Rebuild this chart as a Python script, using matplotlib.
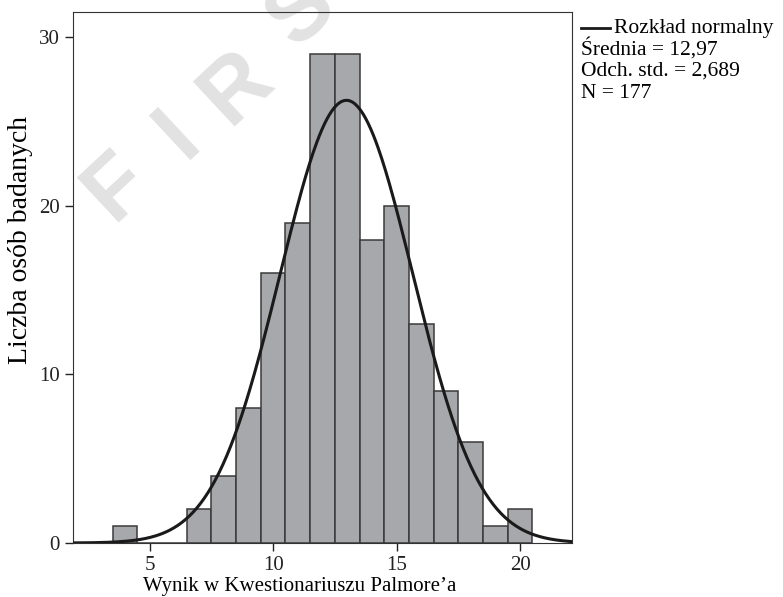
import numpy as np
import matplotlib.pyplot as plt

# histogram counts per score
scores = [4, 5, 6, 7, 8, 9, 10, 11, 12, 13, 14, 15, 16, 17, 18, 19, 20]
counts = [1, 0, 0, 2, 4, 8, 16, 19, 29, 29, 18, 20, 13, 9, 6, 1, 2]

mean = 12.97
sd = 2.689
n = 177

plt.rcParams['font.family'] = ['Liberation Serif', 'DejaVu Serif']

W, H = 783, 597
fig = plt.figure(figsize=(W / 100, H / 100), dpi=100)
ax = fig.add_axes([73 / W, 1 - 543 / H, 499 / W, 531 / H])

# watermark letters, behind the plot
for ch, px, py in [('F', 118, 187), ('I', 178, 135), ('R', 236, 87), ('S', 302, 12)]:
    fig.text(px / W, 1 - py / H, ch, fontsize=64, fontweight='bold', family='Liberation Sans',
             color='#e2e2e2', rotation=43, ha='center', va='center',
             rotation_mode='anchor', zorder=-1)

ax.bar(scores, counts, width=1.0, color='#a7a8ac', edgecolor='#3a3a3a', linewidth=1.1, zorder=2)

x = np.linspace(1.9, 22.1, 400)
y = n * 1.0 * np.exp(-0.5 * ((x - mean) / sd) ** 2) / (sd * np.sqrt(2 * np.pi))
ax.plot(x, y, color='#1a1a1a', linewidth=2.2, zorder=3)

ax.set_xlim(1.9, 22.1)
ax.set_ylim(0, 31.5)
ax.set_xticks([5, 10, 15, 20])
ax.set_yticks([0, 10, 20, 30])
ax.tick_params(labelsize=15, length=6, width=1, direction='out', colors='#222222')
ax.set_xlabel('Wynik w Kwestionariuszu Palmore\u2019a', fontsize=15, labelpad=1)
ax.set_ylabel('Liczba osób badanych', fontsize=20, labelpad=4)
ax.xaxis.label.set_x((300 - 73) / 499)
ax.yaxis.label.set_y((543 - 240) / 531)
ax.patch.set_alpha(0)
for s in ax.spines.values():
    s.set_color('#333333')

# legend block
fig.lines.append(plt.Line2D([581 / W, 610 / W], [1 - 28 / H] * 2, color='#1a1a1a', linewidth=2,
                            transform=fig.transFigure))
fig.text(614 / W, 1 - 28 / H, 'Rozkład normalny', fontsize=15.5, va='center')
fig.text(581 / W, 1 - 49 / H, 'Średnia = 12,97', fontsize=15.5, va='center')
fig.text(581 / W, 1 - 71 / H, 'Odch. std. = 2,689', fontsize=15.5, va='center')
fig.text(581 / W, 1 - 93 / H, 'N = 177', fontsize=15.5, va='center')

fig.savefig('out.png', dpi=100)
